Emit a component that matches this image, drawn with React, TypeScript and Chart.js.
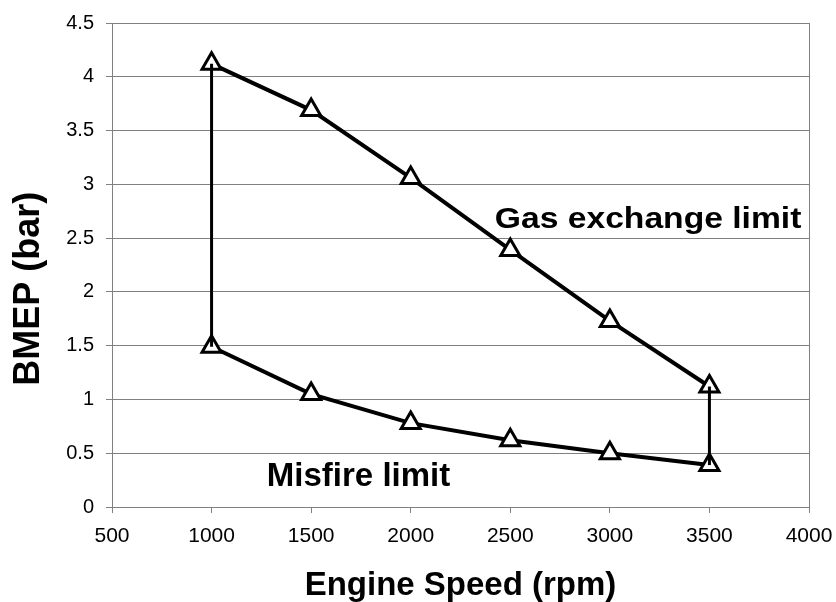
import React, { useEffect, useRef } from "react";
import { Chart, registerables } from "chart.js";

Chart.register(...registerables);

const speeds = [1000, 1500, 2000, 2500, 3000, 3500];
const gasExchangeLimit = [4.12, 3.69, 3.06, 2.39, 1.73, 1.12];
const misfireLimit = [1.49, 1.05, 0.78, 0.62, 0.5, 0.39];
const xTicks = [500, 1000, 1500, 2000, 2500, 3000, 3500, 4000];
const yTicks = [0, 0.5, 1, 1.5, 2, 2.5, 3, 3.5, 4, 4.5];
const yTitle = "BMEP (bar)";
const annotations = [
  { text: "Gas exchange limit", x: 3192, y: 2.67, size: 29, stretch: 1.16 },
  { text: "Misfire limit", x: 1738, y: 0.28, size: 33, stretch: 1.0 },
];

const FONT = "'Liberation Sans', Arial, sans-serif";

const extrasPlugin = {
  id: "extras",
  afterDatasetsDraw(chart: any) {
    const { ctx, chartArea, scales } = chart;
    ctx.save();
    ctx.strokeStyle = "#808080";
    ctx.lineWidth = 1;
    ctx.beginPath();
    ctx.moveTo(chartArea.right + 0.5, chartArea.top);
    ctx.lineTo(chartArea.right + 0.5, chartArea.bottom);
    ctx.stroke();
    ctx.fillStyle = "#000";
    ctx.textAlign = "center";
    ctx.textBaseline = "middle";
    annotations.forEach((a) => {
      ctx.save();
      ctx.font = `bold ${a.size}px ${FONT}`;
      ctx.translate(scales.x.getPixelForValue(a.x), scales.y.getPixelForValue(a.y));
      ctx.scale(a.stretch, 1);
      ctx.fillText(a.text, 0, 0);
      ctx.restore();
    });
    // y-axis title, centred slightly below the axis middle as in the reference
    ctx.save();
    ctx.font = `bold 36px ${FONT}`;
    ctx.translate(29, scales.y.getPixelForValue(2.03));
    ctx.rotate(-Math.PI / 2);
    ctx.fillText(yTitle, 0, 0);
    ctx.restore();
    ctx.restore();
  },
};

export default function App() {
  const ref = useRef<HTMLCanvasElement>(null);
  useEffect(() => {
    if (!ref.current) return;
    const last = speeds.length - 1;
    const upper = speeds.map((s, i) => ({ x: s, y: gasExchangeLimit[i] }));
    const lower = speeds.map((s, i) => ({ x: s, y: misfireLimit[i] }));
    const pointOpts = {
      pointStyle: "triangle",
      pointRadius: 11,
      pointHoverRadius: 11,
      pointBackgroundColor: "#fff",
      pointBorderColor: "#000",
      pointBorderWidth: 3,
    };
    const chart = new Chart(ref.current, {
      type: "scatter",
      data: {
        datasets: [
          {
            data: [lower[0], upper[0]],
            showLine: true,
            borderColor: "#000",
            borderWidth: 3,
            pointRadius: 0,
          },
          {
            data: [lower[last], upper[last]],
            showLine: true,
            borderColor: "#000",
            borderWidth: 3,
            pointRadius: 0,
          },
          {
            data: upper,
            showLine: true,
            borderColor: "#000",
            borderWidth: 4,
            ...pointOpts,
          },
          {
            data: lower,
            showLine: true,
            borderColor: "#000",
            borderWidth: 4,
            ...pointOpts,
          },
        ] as any,
      },
      options: {
        animation: false,
        responsive: true,
        maintainAspectRatio: false,
        layout: { padding: { left: 0, right: 27, top: 23, bottom: 0 } },
        plugins: { legend: { display: false }, tooltip: { enabled: false } },
        scales: {
          x: {
            type: "linear",
            min: 500,
            max: 4000,
            afterBuildTicks: (s: any) => {
              s.ticks = xTicks.map((v) => ({ value: v }));
            },
            afterFit: (s: any) => {
              s.height = 95;
              s.paddingLeft = 0;
              s.paddingRight = 0;
            },
            ticks: {
              color: "#000",
              font: { family: FONT, size: 21 },
              padding: 11,
              maxRotation: 0,
              callback: (v: any) => String(v),
            },
            grid: {
              drawOnChartArea: false,
              drawTicks: true,
              tickLength: 6,
              color: "#808080",
            },
            border: { display: true, color: "#808080" },
            title: {
              display: true,
              text: "Engine Speed (rpm)",
              color: "#000",
              font: { family: FONT, size: 33, weight: "bold", lineHeight: 1 },
              padding: { top: 0, bottom: 0 },
            },
          },
          y: {
            type: "linear",
            min: 0,
            max: 4.5,
            afterBuildTicks: (s: any) => {
              s.ticks = yTicks.map((v) => ({ value: v }));
            },
            afterFit: (s: any) => {
              s.width = 112;
              s.paddingTop = 0;
              s.paddingBottom = 0;
            },
            ticks: {
              color: "#000",
              font: { family: FONT, size: 20 },
              padding: 12,
              callback: (v: any) => String(v),
            },
            grid: {
              drawTicks: true,
              tickLength: 6,
              color: "#808080",
            },
            border: { display: true, color: "#808080" },
          },
        },
      } as any,
      plugins: [extrasPlugin],
    });
    return () => chart.destroy();
  }, []);
  return (
    <div style={{ position: "fixed", left: 0, top: 0, width: 836, height: 602, background: "#fff" }}>
      <canvas ref={ref} />
    </div>
  );
}
